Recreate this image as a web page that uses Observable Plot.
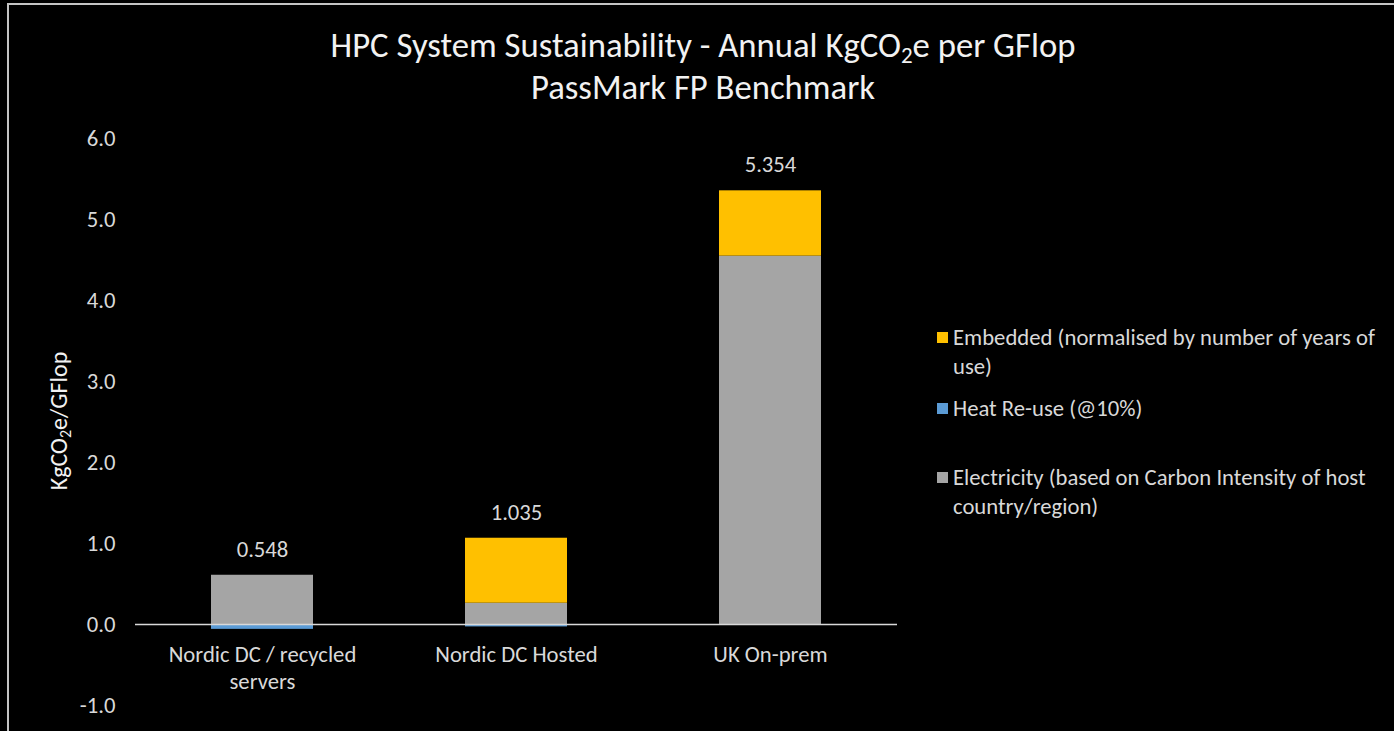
<!DOCTYPE html>
<html>
<head>
<meta charset="utf-8">
<script src="https://cdn.jsdelivr.net/npm/d3@7"></script>
<script src="https://cdn.jsdelivr.net/npm/@observablehq/plot@0.6"></script>
<style>
  html, body { margin: 0; padding: 0; background: #000; overflow: hidden; }
  body { width: 1394px; height: 731px; }
  #chart {
    position: relative; width: 1394px; height: 731px; background: #000; overflow: hidden;
    font-family: Carlito, Lato, "Open Sans", sans-serif; color: #d9d9d9;
  }
  #frame {
    position: absolute; left: 7px; top: 3px; width: 1387px; height: 728px; box-sizing: border-box;
    border-top: 2px solid #c4c4c4; border-left: 2px solid #c4c4c4;
  }
  #plot { position: absolute; left: 0; top: 0; }
  .title {
    position: absolute; left: 0; width: 1406px; text-align: center;
    font-size: 34.7px; color: #f2f2f2; white-space: nowrap; line-height: 1;
  }
  .title sub { font-size: 23px; vertical-align: -6px; line-height: 0; }
  #ylabel {
    position: absolute; left: 59px; top: 421px; transform: translate(-50%, -50%) rotate(-90deg);
    font-size: 24px; white-space: nowrap; color: #f2f2f2; line-height: 1;
  }
  #ylabel sub { font-size: 16px; vertical-align: -4px; line-height: 0; }
  .legend-item {
    position: absolute; left: 953px; font-size: 22.7px; line-height: 29px; white-space: nowrap;
  }
  .legend-item .swatch {
    position: absolute; left: -16px; top: 9px; width: 11px; height: 11px;
  }
</style>
</head>
<body>
<div id="chart">
  <div id="frame"></div>
  <div class="title" style="top:28px">HPC System Sustainability - Annual KgCO<sub>2</sub>e per GFlop</div>
  <div class="title" style="top:70px">PassMark FP Benchmark</div>
  <div id="ylabel">KgCO<sub>2</sub>e/GFlop</div>
  <div id="legend"></div>
  <div id="plot"></div>
</div>
<script>
// Sites compared
const categories = ["Nordic DC / recycled servers", "Nordic DC Hosted", "UK On-prem"];
const categoryLabels = ["Nordic DC / recycled\nservers", "Nordic DC Hosted", "UK On-prem"];

// Annual kgCO2e per GFlop, by component
const electricity = [0.608, 0.263, 4.548];
const heatReuse = [-0.060, -0.030, 0.000];
const embedded = [0.000, 0.802, 0.806];

// Series names, legend text and colours
const seriesNames = ["Electricity", "Heat Re-use", "Embedded"];
const seriesColors = ["#a5a5a5", "#5b9bd5", "#ffc000"];
const legendEntries = [
  {name: "Embedded", lines: ["Embedded (normalised by number of years of", "use)"], top: 323},
  {name: "Heat Re-use", lines: ["Heat Re-use (@10%)"], top: 394},
  {name: "Electricity", lines: ["Electricity (based on Carbon Intensity of host", "country/region)"], top: 463}
];

const yTicks = [-1, 0, 1, 2, 3, 4, 5, 6];

const seriesValues = [electricity, heatReuse, embedded];
const rows = categories.flatMap((c, i) =>
  seriesNames.map((s, j) => ({category: c, series: s, value: seriesValues[j][i]}))
);
const totals = categories.map((c, i) => ({
  category: c,
  label: categoryLabels[i],
  total: electricity[i] + heatReuse[i] + embedded[i],
  top: Math.max(0, electricity[i]) + Math.max(0, embedded[i]) + Math.max(0, heatReuse[i])
}));

const font = "Carlito, Lato, 'Open Sans', sans-serif";

const chart = Plot.plot({
  width: 1394,
  height: 731,
  marginLeft: 135,
  marginRight: 497,
  marginTop: 138,
  marginBottom: 26,
  style: {background: "transparent", color: "#d9d9d9", fontFamily: font, fontSize: "22.7px"},
  x: {domain: categories, paddingInner: 0.6, paddingOuter: 0.3, axis: null},
  y: {domain: [-1, 6], axis: null},
  color: {domain: seriesNames, range: seriesColors},
  marks: [
    // plain hyphen for negatives, one decimal place
    Plot.axisY({ticks: yTicks, tickFormat: d => d.toFixed(1), tickSize: 0, tickPadding: 20,
                label: null, fontSize: 22.7, fill: "#d9d9d9"}),
    Plot.barY(rows, Plot.stackY({
      x: "category", y: "value", fill: "series",
      order: seriesNames
    })),
    Plot.ruleY([0], {stroke: "#d9d9d9", strokeWidth: 1.5}),
    Plot.text(totals, {
      x: "category", y: "top", text: d => d.total.toFixed(3),
      dy: -26, fontSize: 22.7, fill: "#d9d9d9"
    }),
    Plot.text(totals, {
      x: "category", y: 0, text: "label",
      lineAnchor: "top", dy: 18, lineHeight: 1.2, fontSize: 22.7, fill: "#d9d9d9"
    })
  ]
});
document.getElementById("plot").appendChild(chart);

// Legend to the right of the plot
const legend = document.getElementById("legend");
for (const e of legendEntries) {
  const item = document.createElement("div");
  item.className = "legend-item";
  item.style.top = e.top + "px";
  const sw = document.createElement("span");
  sw.className = "swatch";
  sw.style.background = seriesColors[seriesNames.indexOf(e.name)];
  item.appendChild(sw);
  item.appendChild(document.createTextNode(e.lines[0]));
  for (const l of e.lines.slice(1)) {
    item.appendChild(document.createElement("br"));
    item.appendChild(document.createTextNode(l));
  }
  legend.appendChild(item);
}
</script>
</body>
</html>
